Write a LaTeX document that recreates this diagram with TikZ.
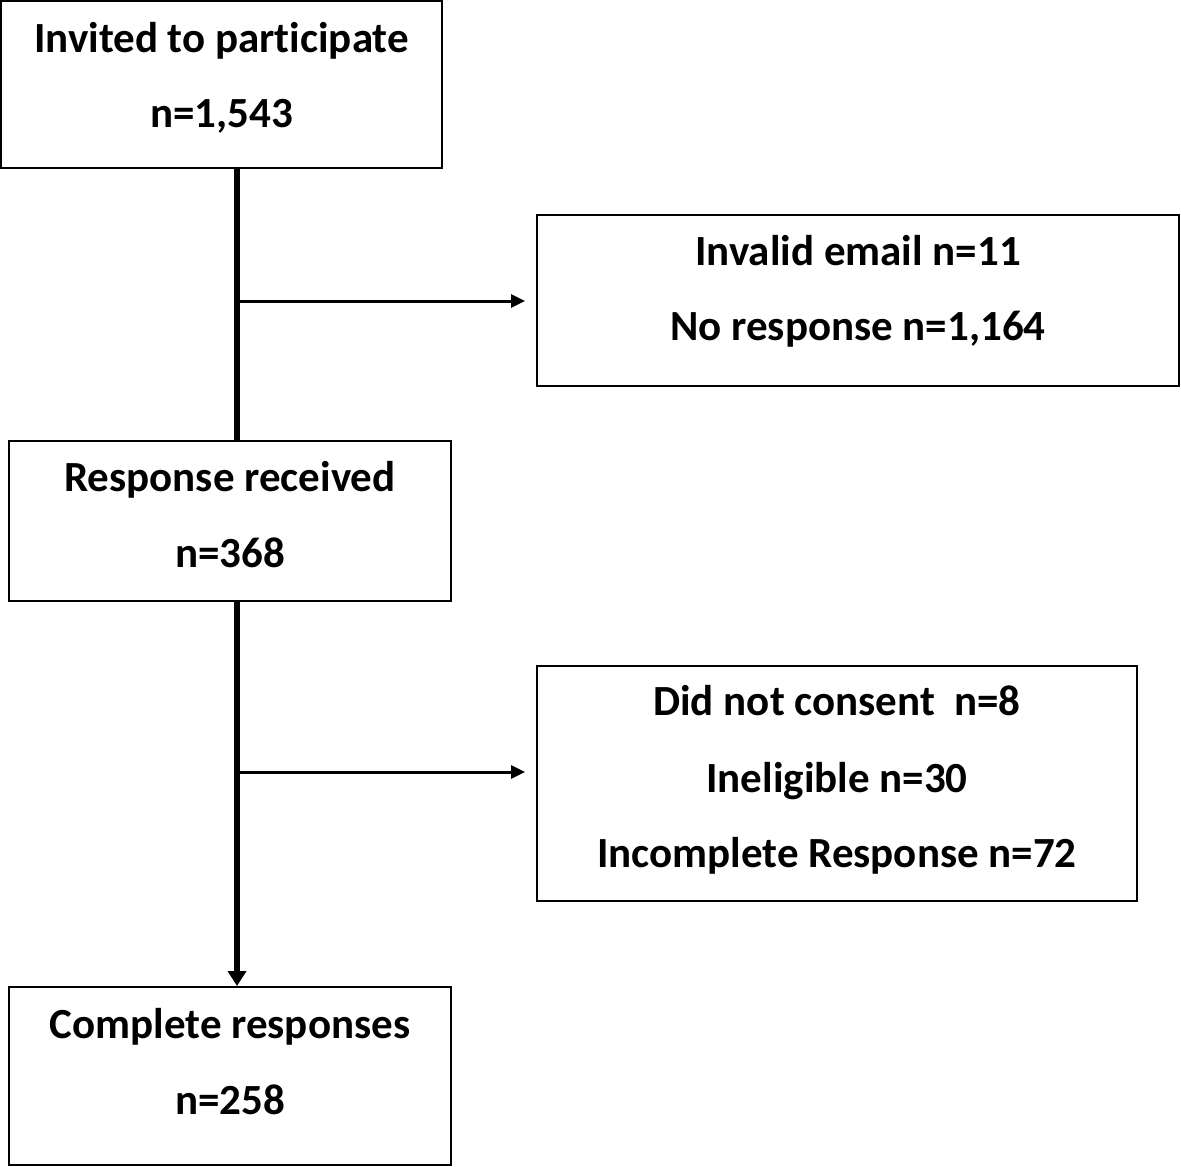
\documentclass[tikz,border=0pt]{standalone}
\usepackage{fontspec}
\setmainfont[Ligatures=CommonOff]{Carlito}
\usetikzlibrary{arrows.meta}
\begin{document}
\begin{tikzpicture}[x=1pt,y=-1pt,
  box/.style={draw, line width=2pt, rectangle, inner sep=0pt},
  lbl/.style={font=\fontsize{43}{50}\selectfont\bfseries, anchor=base, inner sep=0pt},
  spineline/.style={line width=5.5pt},
  branch/.style={line width=3pt, -{Triangle[length=14pt,width=13pt]}, shorten >=11pt}]
\useasboundingbox (0,0) rectangle (1181,1167);
\fill[white] (0,0) rectangle (1181,1167);

% boxes
\node[box, minimum width=441pt, minimum height=167pt] (b1) at (221.5,84.5) {};
\node[box, minimum width=642pt, minimum height=171pt] (b2) at (858,300.5) {};
\node[box, minimum width=442pt, minimum height=160pt] (b3) at (230,521) {};
\node[box, minimum width=600pt, minimum height=235pt] (b4) at (837,783.5) {};
\node[box, minimum width=442pt, minimum height=178pt] (b5) at (230,1076) {};

% texts
\node[lbl] (t1a) at (221.5,52) {Invited to participate};
\node[lbl] (t1b) at (221.5,127) {n=1,543};
\node[lbl] (t2a) at (858,265) {Invalid email n=11};
\node[lbl] (t2b) at (858,340) {No response n=1,164};
\node[lbl] (t3a) at (230,491) {Response received};
\node[lbl] (t3b) at (230,567) {n=368};
\node[lbl] (t4a) at (837,715) {Did not consent~ n=8};
\node[lbl] (t4b) at (837,792) {Ineligible n=30};
\node[lbl] (t4c) at (837,867) {Incomplete Response n=72};
\node[lbl] (t5a) at (230,1038) {Complete responses};
\node[lbl] (t5b) at (230,1114) {n=258};

% connectors
\coordinate (sp) at (237,0);
\coordinate (j1) at (237,301);
\coordinate (j2) at (237,772);
\draw[spineline] (b1.south -| sp) -- (b3.north -| sp);
\draw[spineline, -{Triangle[length=15pt,width=18pt]}] (b3.south -| sp) -- (b5.north -| sp);
\draw[branch] (j1) -- (b2.west |- j1);
\draw[branch] (j2) -- (b4.west |- j2);
\end{tikzpicture}
\end{document}
